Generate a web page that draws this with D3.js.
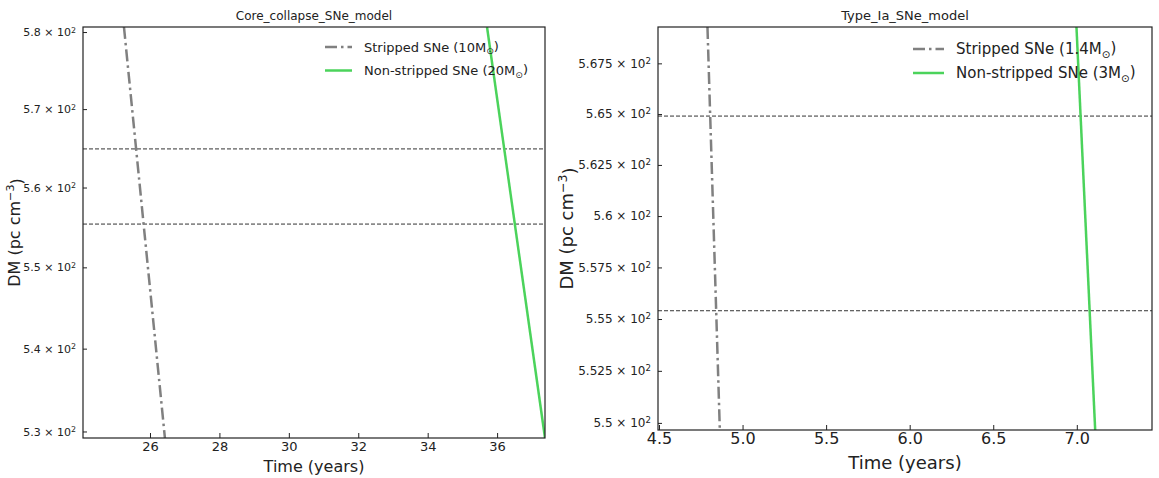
<!DOCTYPE html>
<html lang="en">
<head>
  <meta charset="UTF-8">
  <title>SNe DM models</title>
  <script src="https://d3js.org/d3.v7.min.js"></script>
  <style>
    body {
      margin: 0;
      background: #fff;
      font-family: "DejaVu Sans", sans-serif;
    }
    svg text {
      fill: #222;
    }
  </style>
</head>
<body>
  <svg width="1159" height="478"></svg>
  <script>
    // observed DM band (dashed lines), same in both panels
    const dmBand = [564.9, 555.4];

    // core-collapse panel
    const ccStrippedTime = [25.25, 26.43];
    const ccStrippedDM = [580.66, 529.22];
    const ccNonStrippedTime = [35.71, 37.38];
    const ccNonStrippedDM = [580.66, 529.22];
    const ccXTicks = [26, 28, 30, 32, 34, 36];
    const ccYTicks = [530, 540, 550, 560, 570, 580];
    const ccYTickLabels = ["5.3", "5.4", "5.5", "5.6", "5.7", "5.8"];

    // type Ia panel
    const iaStrippedTime = [4.79, 4.864];
    const iaStrippedDM = [569.3, 549.66];
    const iaNonStrippedTime = [6.998, 7.11];
    const iaNonStrippedDM = [569.3, 549.66];
    const iaXTicks = [4.5, 5.0, 5.5, 6.0, 6.5, 7.0];
    const iaYTicks = [550, 552.5, 555, 557.5, 560, 562.5, 565, 567.5];
    const iaYTickLabels = ["5.5", "5.525", "5.55", "5.575", "5.6", "5.625", "5.65", "5.675"];

    const grey = "#808080", green = "#4bd35b";
    const svg = d3.select("svg");

    function panel(o) {
      const g = svg.append("g");
      const x = d3.scaleLinear().domain(o.xDomain).range([o.left, o.right]);
      const y = d3.scaleLog().domain(o.yDomain).range([o.bottom, o.top]);

      g.append("clipPath").attr("id", o.id)
        .append("rect")
        .attr("x", o.left).attr("y", o.top)
        .attr("width", o.right - o.left).attr("height", o.bottom - o.top);

      const plot = g.append("g").attr("clip-path", `url(#${o.id})`);

      plot.selectAll(".band")
        .data(dmBand)
        .enter()
        .append("line")
        .attr("x1", o.left).attr("x2", o.right)
        .attr("y1", d => y(d)).attr("y2", d => y(d))
        .attr("stroke", "#333")
        .attr("stroke-width", 1)
        .attr("stroke-dasharray", "4,2");

      const line = d3.line().x(d => x(d[0])).y(d => y(d[1]));

      plot.append("path")
        .datum(o.strippedT.map((t, i) => [t, o.strippedDM[i]]))
        .attr("d", line)
        .attr("fill", "none")
        .attr("stroke", grey)
        .attr("stroke-width", 2.5)
        .attr("stroke-dasharray", "12,4,2.5,4");

      plot.append("path")
        .datum(o.nonT.map((t, i) => [t, o.nonDM[i]]))
        .attr("d", line)
        .attr("fill", "none")
        .attr("stroke", green)
        .attr("stroke-width", 2.5);

      // frame
      g.append("rect")
        .attr("x", o.left).attr("y", o.top)
        .attr("width", o.right - o.left).attr("height", o.bottom - o.top)
        .attr("fill", "none").attr("stroke", "#222").attr("stroke-width", 1.2);

      // x axis, ticks pointing inward
      const xa = g.append("g")
        .attr("transform", `translate(0,${o.bottom})`)
        .call(d3.axisBottom(x).tickValues(o.xTicks).tickSizeInner(-5).tickSizeOuter(0)
          .tickPadding(o.xPad).tickFormat(o.xFormat));
      xa.select(".domain").remove();
      xa.selectAll("line").attr("stroke", "#222");
      xa.selectAll("text")
        .attr("font-size", o.xTickSize)
        .attr("font-family", "DejaVu Sans")
        .attr("fill", "#222");

      // y axis, log ticks labelled a × 10^2
      const ya = g.append("g")
        .attr("transform", `translate(${o.left},0)`)
        .call(d3.axisLeft(y).tickValues(o.yTicks).tickSizeInner(-4).tickSizeOuter(0)
          .tickPadding(7).tickFormat(""));
      ya.select(".domain").remove();
      ya.selectAll("line").attr("stroke", "#222");
      ya.selectAll(".tick").each(function(d, i) {
        const t = d3.select(this).select("text")
          .attr("font-size", o.yTickSize)
          .attr("font-family", "DejaVu Sans")
          .attr("fill", "#222");
        t.append("tspan").text(o.yLabels[i] + " × 10");
        t.append("tspan").text("2")
          .attr("font-size", o.yTickSize * 0.72)
          .attr("dy", "-0.45em");
      });

      // titles and labels
      g.append("text")
        .attr("x", (o.left + o.right) / 2).attr("y", o.top - 7)
        .attr("text-anchor", "middle")
        .attr("font-size", o.titleSize)
        .text(o.title);

      g.append("text")
        .attr("x", (o.left + o.right) / 2).attr("y", o.xLabelY)
        .attr("text-anchor", "middle")
        .attr("font-size", o.labelSize)
        .text("Time (years)");

      const yl = g.append("text")
        .attr("transform", `translate(${o.yLabelX},${(o.top + o.bottom) / 2}) rotate(-90)`)
        .attr("text-anchor", "middle")
        .attr("font-size", o.labelSize);
      yl.append("tspan").text("DM (pc cm");
      yl.append("tspan").text("−3").attr("font-size", o.labelSize * 0.7).attr("dy", "-0.5em");
      yl.append("tspan").text(")").attr("dy", "0.5em");

      // legend
      const items = [
        {name: o.legend[0], color: grey, dash: "12,4,2.5,4"},
        {name: o.legend[1], color: green, dash: null}
      ];
      items.forEach((it, i) => {
        const ly = o.legendY + i * o.legendGap;
        g.append("line")
          .attr("x1", o.legendX).attr("x2", o.legendX + o.legendLen)
          .attr("y1", ly).attr("y2", ly)
          .attr("stroke", it.color).attr("stroke-width", 2.5)
          .attr("stroke-dasharray", it.dash);
        const t = g.append("text")
          .attr("x", o.legendX + o.legendLen + 12).attr("y", ly + o.legendSize * 0.36)
          .attr("font-size", o.legendSize);
        t.append("tspan").text(it.name + "M");
        t.append("tspan").text("⊙").attr("font-size", o.legendSize * 0.7).attr("dy", "0.3em");
        t.append("tspan").text(")").attr("dy", "-0.3em");
      });
    }

    panel({
      id: "clipCC",
      left: 83, right: 545, top: 27, bottom: 438,
      xDomain: [24.07, 37.38], yDomain: [529.22, 580.66],
      xTicks: ccXTicks, xFormat: d3.format("d"), xPad: 4,
      yTicks: ccYTicks, yLabels: ccYTickLabels,
      strippedT: ccStrippedTime, strippedDM: ccStrippedDM,
      nonT: ccNonStrippedTime, nonDM: ccNonStrippedDM,
      title: "Core_collapse_SNe_model", titleSize: 12,
      xTickSize: 13, yTickSize: 11, labelSize: 16,
      xLabelY: 472, yLabelX: 20,
      legend: ["Stripped SNe (10", "Non-stripped SNe (20"],
      legendX: 325, legendLen: 27, legendY: 47, legendGap: 23.5, legendSize: 13
    });

    panel({
      id: "clipIA",
      left: 658, right: 1152, top: 27, bottom: 430,
      xDomain: [4.494, 7.45], yDomain: [549.66, 569.3],
      xTicks: iaXTicks, xFormat: d3.format(".1f"), xPad: 3,
      yTicks: iaYTicks, yLabels: iaYTickLabels,
      strippedT: iaStrippedTime, strippedDM: iaStrippedDM,
      nonT: iaNonStrippedTime, nonDM: iaNonStrippedDM,
      title: "Type_Ia_SNe_model", titleSize: 13,
      xTickSize: 16, yTickSize: 12, labelSize: 18,
      xLabelY: 469, yLabelX: 573,
      legend: ["Stripped SNe (1.4", "Non-stripped SNe (3"],
      legendX: 913, legendLen: 31, legendY: 49, legendGap: 24, legendSize: 15
    });
  </script>
</body>
</html>
